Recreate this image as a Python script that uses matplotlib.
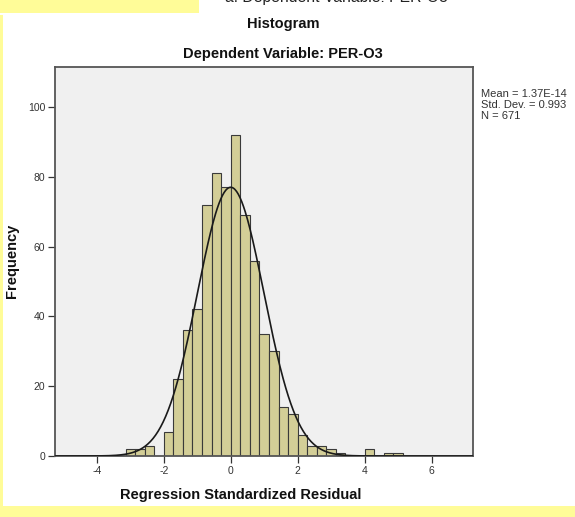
import matplotlib

matplotlib.use("Agg")
import matplotlib.pyplot as plt
import numpy as np
from matplotlib.patches import Rectangle

# histogram of regression standardized residuals (SPSS output)
bin_start = -22 / 7
bin_width = 2 / 7
counts = [2, 2, 3, 0, 7, 22, 36, 42, 72, 81, 77,
          92, 69, 56, 35, 30, 14, 12, 6, 3, 3, 2, 1, 0, 0, 2, 0, 1, 1]

mean_val = 1.37e-14
std_val = 0.993
n_obs = 671

x_ticks = [-4, -2, 0, 2, 4, 6]
y_ticks = [0, 20, 40, 60, 80, 100]

YELLOW = "#FFFC98"
BAR = "#D3CE97"
W, H = 575, 517

plt.rcParams["font.family"] = ["Liberation Sans", "DejaVu Sans"]
plt.rcParams["axes.unicode_minus"] = False

fig = plt.figure(figsize=(W / 100, H / 100), dpi=100, facecolor="white")

# yellow page remnants around the pasted screenshot
for x0, y0, w, h in [(0, 0, 199, 13), (0, 15, 3, 502), (0, 506, 575, 11)]:
    fig.patches.append(Rectangle((x0 / W, 1 - (y0 + h) / H), w / W, h / H,
                                 transform=fig.transFigure, facecolor=YELLOW,
                                 edgecolor="none", zorder=0))

ax = fig.add_axes([55 / W, 1 - 456 / H, (473 - 55) / W, (456 - 67) / H])
ax.set_facecolor("#F0F0F0")

edges = bin_start + bin_width * np.arange(len(counts) + 1)
ax.bar(edges[:-1], counts, width=bin_width, align="edge", color=BAR,
       edgecolor="#3A3A3A", linewidth=0.8, zorder=2)

xs = np.linspace(-5.3, 7.3, 500)
pdf = np.exp(-0.5 * ((xs - mean_val) / std_val) ** 2) / (std_val * np.sqrt(2 * np.pi))
ax.plot(xs, n_obs * bin_width * pdf, color="#1A1A1A", linewidth=1.2, zorder=3)

ax.set_xlim(-5.25, 7.24)
ax.set_ylim(0, 111.5)
ax.set_xticks(x_ticks)
ax.set_yticks(y_ticks)
ax.tick_params(direction="out", length=5, width=0.9, color="#333333",
               labelsize=7.5, labelcolor="#333333", pad=2)
for spine in ax.spines.values():
    spine.set_color("#555555")
    spine.set_linewidth(1.3)

# footnote of the previous output, only its lower edge is visible
fig.text(336 / W, 1 - 2 / H, "a. Dependent Variable: PER-O3", ha="center",
         va="baseline", fontsize=11.3, color="#222222")
fig.text(0.492, 1 - 24 / H, "Histogram", ha="center", va="center",
         fontsize=10.5, fontweight="bold", color="#111111")
fig.text(0.492, 1 - 54 / H, "Dependent Variable: PER-O3", ha="center",
         va="center", fontsize=10.5, fontweight="bold", color="#111111")
fig.text(241 / W, 1 - 495 / H, "Regression Standardized Residual",
         ha="center", va="center", fontsize=10.5, fontweight="bold",
         color="#111111")
fig.text(12 / W, 1 - 261 / H, "Frequency", ha="center", va="center",
         rotation=90, fontsize=10.5, fontweight="bold", color="#111111")
fig.text(481 / W, 1 - 89 / H,
         f"Mean = 1.37E-14\nStd. Dev. = {std_val}\nN = {n_obs}",
         ha="left", va="top", fontsize=8, color="#333333", linespacing=1.12)

fig.savefig("out.png", dpi=100, facecolor="white")
